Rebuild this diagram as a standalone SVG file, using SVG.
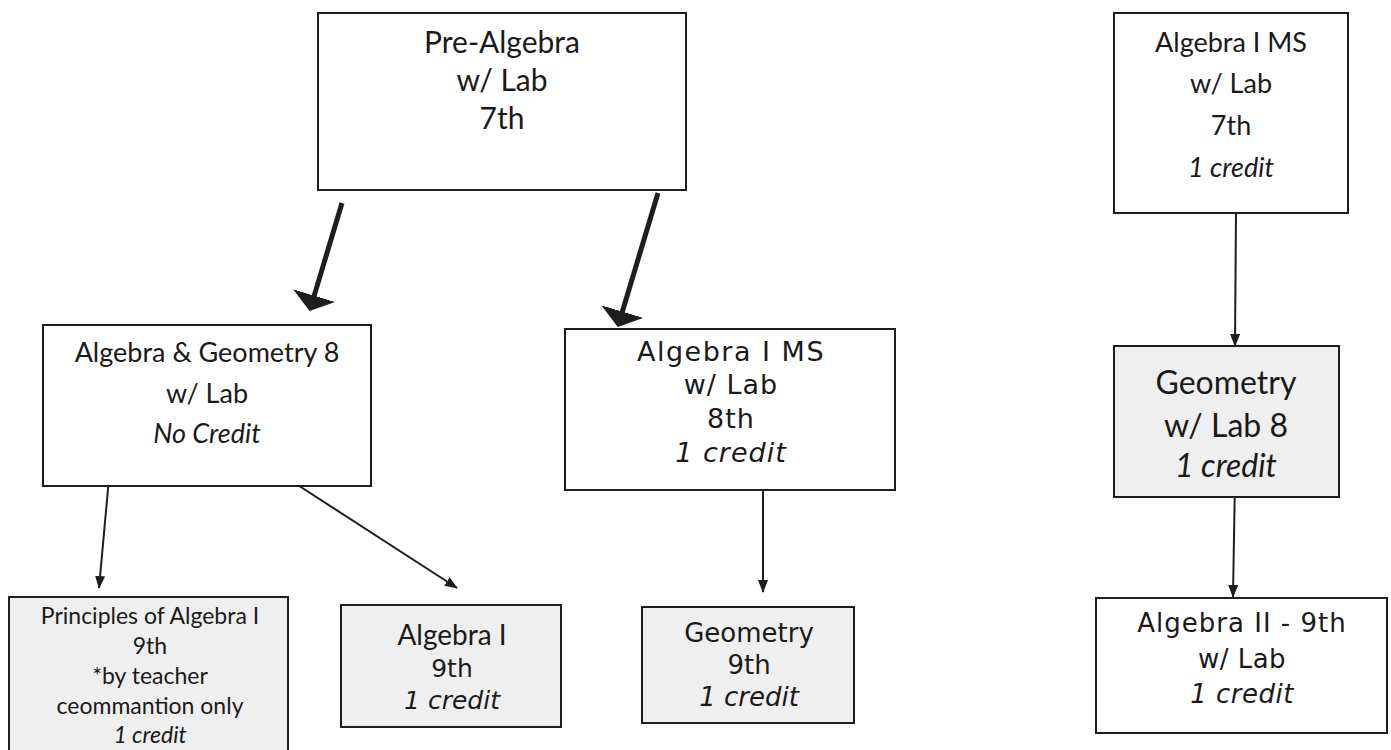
<svg xmlns="http://www.w3.org/2000/svg" width="1391" height="750" viewBox="0 0 1391 750">
<defs>
<style>
.box{fill:#ffffff;stroke:#1e1e1e;stroke-width:2}
.gray{fill:#efefef;stroke:#1e1e1e;stroke-width:2}
.c{font-family:Lato,"Open Sans",sans-serif;fill:#1a1a1a;text-anchor:middle}
.v{font-family:"DejaVu Sans",Verdana,sans-serif;fill:#1a1a1a;text-anchor:middle}
.i{font-style:italic}
.thin{stroke:#1e1e1e;stroke-width:2;fill:none;marker-end:url(#ah)}
.thick{stroke:#1e1e1e;stroke-width:5;fill:none;marker-end:url(#big)}
</style>
<marker id="ah" markerUnits="userSpaceOnUse" markerWidth="13" markerHeight="10" refX="12" refY="5" orient="auto">
<path d="M0,0 L13,5 L0,10 z" fill="#1e1e1e"/>
</marker>
<marker id="big" markerUnits="userSpaceOnUse" markerWidth="16" markerHeight="44" refX="2" refY="22" orient="auto">
<path d="M0,0 L16,22 L0,44 z" fill="#1e1e1e"/>
</marker>
</defs>
<rect width="1391" height="750" fill="#ffffff"/>

<g id="connectors">
<line class="thick" x1="342" y1="203" x2="313.6" y2="297.6"/>
<line class="thick" x1="658" y1="193" x2="621.8" y2="313.5"/>
<line class="thin" x1="109" y1="478" x2="99" y2="588"/>
<line class="thin" x1="290" y1="480" x2="457" y2="588"/>
<line class="thin" x1="763" y1="485" x2="763" y2="592"/>
<line class="thin" x1="1236" y1="213" x2="1235" y2="346"/>
<line class="thin" x1="1235" y1="477" x2="1233" y2="597"/>
</g>

<g id="pre-algebra">
<rect class="box" x="318" y="13" width="368" height="177"/>
<text class="c" font-size="30" x="502" y="53">Pre-Algebra</text>
<text class="c" font-size="30" x="502" y="91">w/ Lab</text>
<text class="c" font-size="30" x="502" y="129">7th</text>
</g>

<g id="algebra1ms-7">
<rect class="box" x="1114" y="13" width="234" height="200"/>
<text class="c" font-size="27" x="1231" y="52">Algebra I MS</text>
<text class="c" font-size="27" x="1231" y="93">w/ Lab</text>
<text class="c" font-size="27" x="1231" y="135">7th</text>
<text class="c i" font-size="27" x="1231" y="177">1 credit</text>
</g>

<g id="alg-geo-8">
<rect class="box" x="43" y="325" width="328" height="161"/>
<text class="c" font-size="27" x="207" y="362">Algebra &amp; Geometry 8</text>
<text class="c" font-size="27" x="207" y="403">w/ Lab</text>
<text class="c i" font-size="27" x="207" y="443">No Credit</text>
</g>

<g id="algebra1ms-8">
<rect class="box" x="565" y="329" width="330" height="161"/>
<text class="v" font-size="27" letter-spacing="1.5" x="731" y="361">Algebra I MS</text>
<text class="v" font-size="27" letter-spacing="1" x="731" y="394">w/ Lab</text>
<text class="v" font-size="27" letter-spacing="1" x="731" y="428">8th</text>
<text class="v i" font-size="27" letter-spacing="1" x="731" y="462">1 credit</text>
</g>

<g id="geometry-8">
<rect class="gray" x="1114" y="346" width="225" height="151"/>
<text class="c" font-size="32" x="1226" y="394">Geometry</text>
<text class="c" font-size="32" x="1226" y="437">w/ Lab 8</text>
<text class="c i" font-size="32" x="1226" y="477">1 credit</text>
</g>

<g id="principles">
<rect class="gray" x="9" y="597" width="279" height="170"/>
<text class="c" font-size="23" x="150" y="624">Principles of Algebra I</text>
<text class="c" font-size="23" x="150" y="654">9th</text>
<text class="c" font-size="23" x="150" y="684">*by teacher</text>
<text class="c" font-size="23" x="150" y="714">ceommantion only</text>
<text class="c i" font-size="23" x="150" y="743">1 credit</text>
</g>

<g id="algebra1-9">
<rect class="gray" x="341" y="605" width="220" height="122"/>
<text class="c" font-size="28" x="452" y="645">Algebra I</text>
<text class="v" font-size="25" x="452" y="677">9th</text>
<text class="v i" font-size="25" x="452" y="709">1 credit</text>
</g>

<g id="geometry-9">
<rect class="gray" x="642" y="607" width="212" height="116"/>
<text class="v" font-size="26" x="749" y="642">Geometry</text>
<text class="v" font-size="26" x="749" y="674">9th</text>
<text class="v i" font-size="26" x="749" y="706">1 credit</text>
</g>

<g id="algebra2-9">
<rect class="box" x="1096" y="598" width="291" height="135"/>
<text class="v" font-size="26" letter-spacing="1" x="1242" y="632">Algebra II - 9th</text>
<text class="v" font-size="26" letter-spacing="0.5" x="1242" y="668">w/ Lab</text>
<text class="v i" font-size="26" letter-spacing="0.5" x="1242" y="703">1 credit</text>
</g>
</svg>
